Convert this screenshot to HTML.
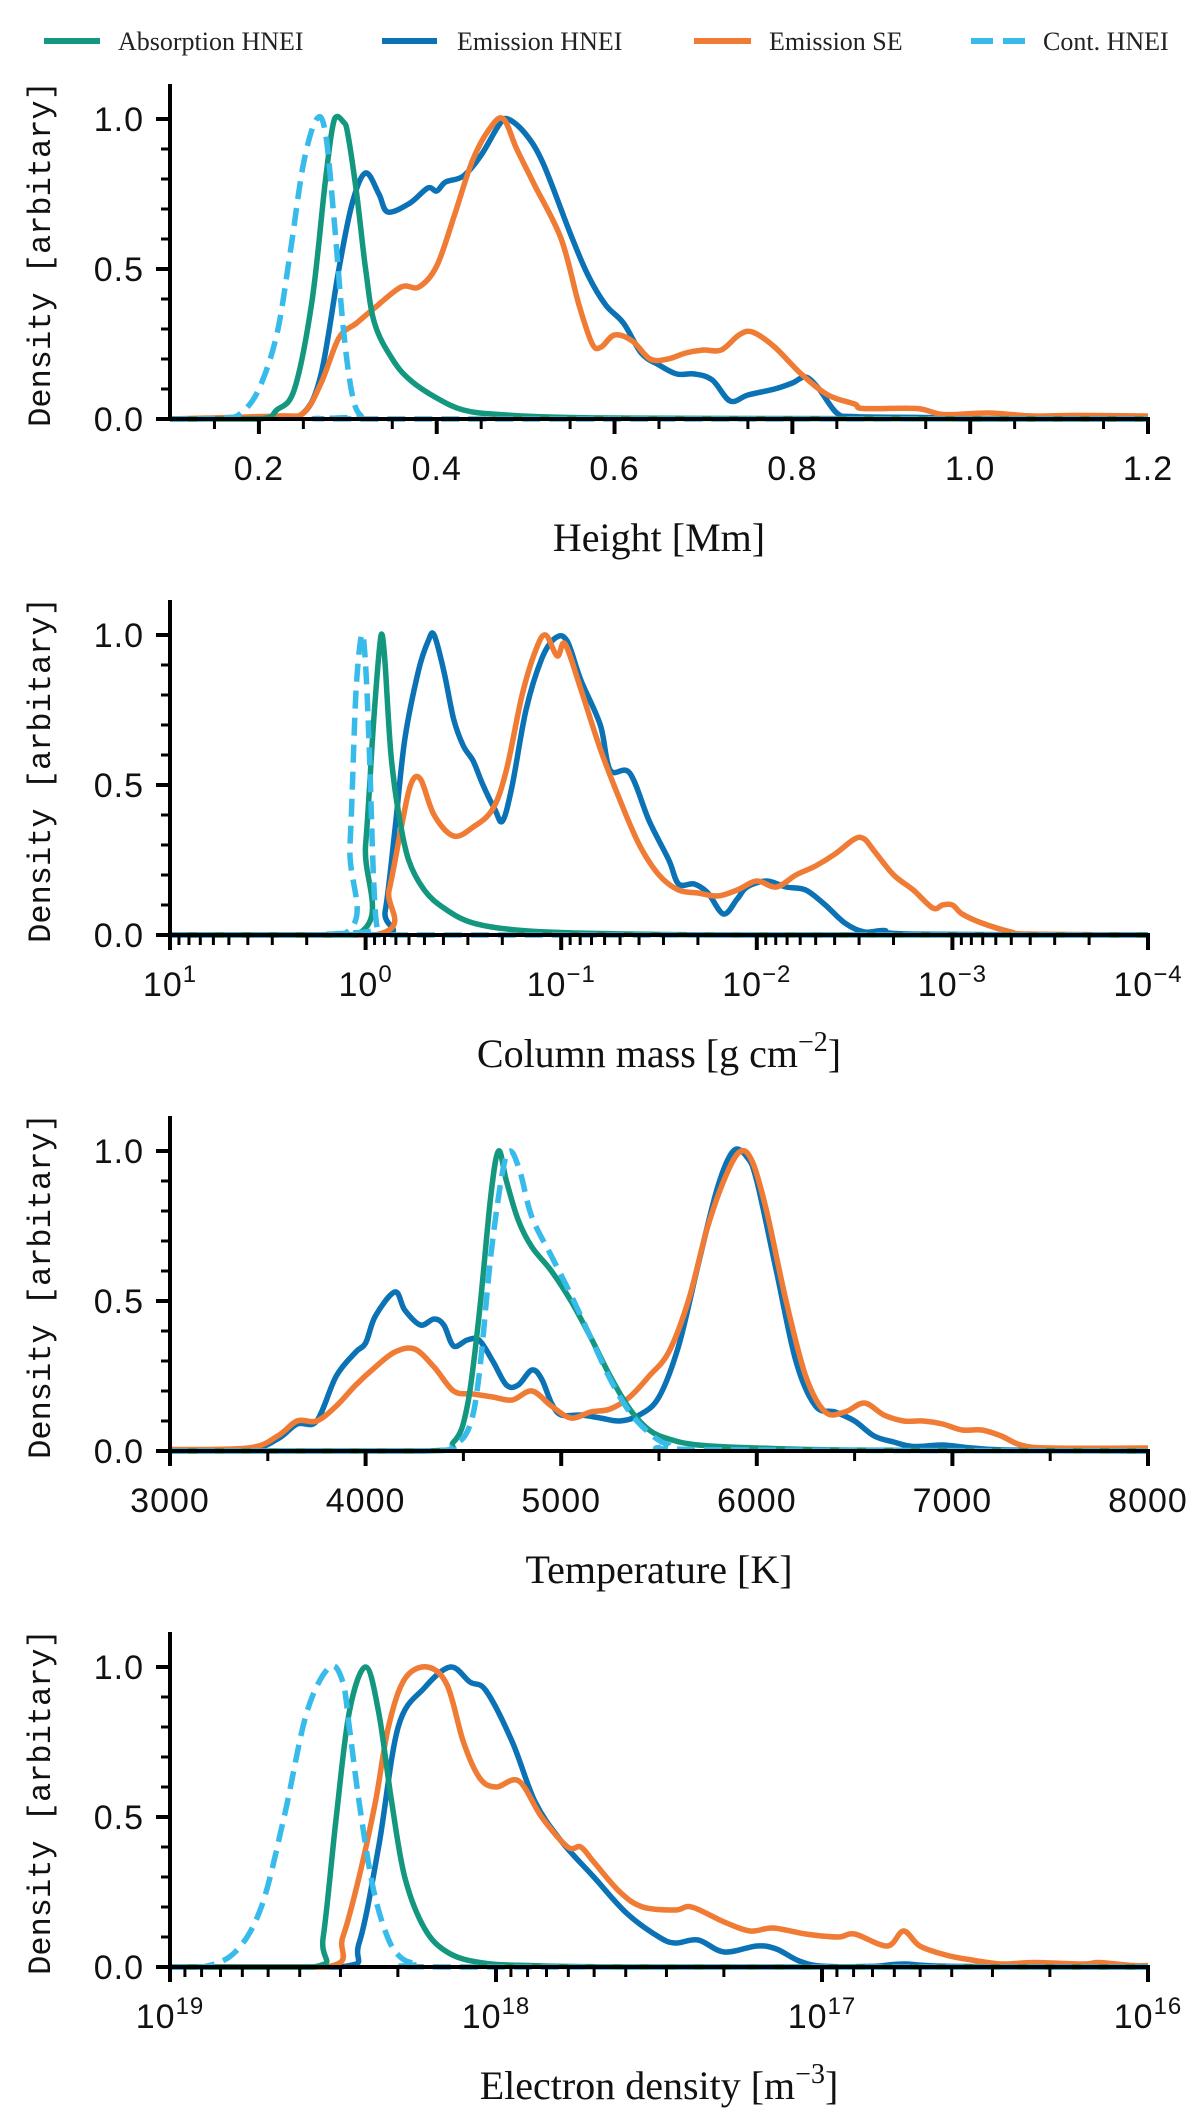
<!DOCTYPE html>
<html><head><meta charset="utf-8">
<style>
html,body{margin:0;padding:0;background:#fff;}
svg{display:block;}
.tick{font-family:"Liberation Sans",sans-serif;font-size:34px;letter-spacing:1px;fill:#111;}
.title{font-family:"Liberation Serif",serif;font-size:40px;fill:#111;}
.ylab{font-family:"Liberation Mono",monospace;font-size:32px;fill:#111;}
.leg{font-family:"Liberation Serif",serif;font-size:26px;fill:#222;}
</style></head>
<body>
<svg id="fig" width="1200" height="2126" viewBox="0 0 1200 2126" xmlns="http://www.w3.org/2000/svg">
<g>
 <g><line x1="44" y1="41" x2="100" y2="41" stroke="#14977f" stroke-width="6"/><text class="leg" x="118" y="50">Absorption HNEI</text></g>
 <g><line x1="382" y1="41" x2="437" y2="41" stroke="#0a72b5" stroke-width="6"/><text class="leg" x="457" y="50">Emission HNEI</text></g>
 <g><line x1="694" y1="41" x2="751" y2="41" stroke="#ef7b34" stroke-width="6"/><text class="leg" x="769" y="50">Emission SE</text></g>
 <g><line x1="971" y1="41" x2="1033" y2="41" stroke="#37bbeb" stroke-width="6" stroke-dasharray="22,10"/><text class="leg" x="1043" y="50">Cont. HNEI</text></g>
</g>
</svg>
<script>
// ---- Panel 1: Height [Mm]
const hAbsX=[0.1,0.2,0.22,0.24,0.26,0.275,0.285,0.295,0.30,0.31,0.32,0.33,0.35,0.37,0.40,0.43,0.47,0.55,0.7,1.2];
const hAbsY=[0,0,0.03,0.1,0.4,0.8,1.0,0.99,0.95,0.75,0.5,0.32,0.2,0.13,0.07,0.03,0.015,0.005,0.002,0];
const hEmX=[0.1,0.22,0.25,0.27,0.29,0.305,0.32,0.335,0.345,0.37,0.39,0.40,0.41,0.43,0.45,0.47,0.48,0.50,0.52,0.55,0.57,0.59,0.61,0.63,0.65,0.67,0.69,0.71,0.73,0.75,0.78,0.80,0.815,0.83,0.85,0.87,0.95,1.0,1.2];
const hEmY=[0,0.005,0.02,0.15,0.5,0.72,0.82,0.75,0.69,0.72,0.77,0.76,0.79,0.81,0.88,0.98,1.0,0.95,0.85,0.62,0.48,0.38,0.32,0.22,0.18,0.15,0.15,0.13,0.06,0.08,0.1,0.12,0.14,0.1,0.02,0.008,0.005,0,0];
const hSeX=[0.1,0.22,0.25,0.27,0.29,0.31,0.33,0.36,0.38,0.40,0.42,0.44,0.46,0.475,0.49,0.51,0.54,0.56,0.575,0.585,0.60,0.62,0.64,0.66,0.68,0.70,0.72,0.74,0.755,0.78,0.81,0.84,0.87,0.88,0.94,0.97,1.02,1.07,1.12,1.2];
const hSeY=[0,0.01,0.02,0.12,0.27,0.32,0.37,0.44,0.44,0.51,0.68,0.86,0.97,1.0,0.9,0.78,0.6,0.38,0.25,0.24,0.28,0.26,0.2,0.2,0.22,0.23,0.23,0.28,0.29,0.24,0.15,0.08,0.05,0.035,0.035,0.015,0.02,0.01,0.012,0.01];
const hCoX=[0.1,0.16,0.18,0.20,0.22,0.235,0.25,0.265,0.275,0.285,0.295,0.305,0.315,0.33,1.2];
const hCoY=[0,0.003,0.02,0.1,0.28,0.55,0.85,1.0,0.95,0.65,0.3,0.08,0.01,0,0];
const hTicks=[0.2,0.4,0.6,0.8,1.0,1.2];
const hTickLabels=["0.2","0.4","0.6","0.8","1.0","1.2"];
// ---- Panel 2: Column mass (log10)
const cAbsX=[1,0.05,0.0,-0.04,-0.07,-0.085,-0.1,-0.13,-0.17,-0.22,-0.3,-0.4,-0.55,-0.8,-1.2,-2,-4];
const cAbsY=[0,0,0.3,0.7,0.95,1.0,0.9,0.6,0.4,0.25,0.15,0.09,0.04,0.015,0.005,0,0];
const cEmX=[1,-0.05,-0.1,-0.15,-0.2,-0.27,-0.32,-0.35,-0.4,-0.45,-0.5,-0.55,-0.6,-0.66,-0.7,-0.75,-0.82,-0.9,-0.97,-1.03,-1.1,-1.2,-1.25,-1.35,-1.45,-1.55,-1.6,-1.68,-1.75,-1.83,-1.9,-1.95,-2.05,-2.15,-2.25,-2.35,-2.45,-2.55,-2.65,-2.8,-4];
const cEmY=[0,0,0.08,0.35,0.65,0.88,0.98,1.0,0.88,0.72,0.63,0.58,0.5,0.42,0.38,0.5,0.75,0.92,0.99,0.98,0.85,0.7,0.55,0.54,0.38,0.25,0.17,0.17,0.14,0.07,0.12,0.16,0.18,0.16,0.15,0.1,0.04,0.01,0.015,0.003,0];
const cSeX=[1,-0.05,-0.12,-0.18,-0.23,-0.28,-0.35,-0.45,-0.55,-0.65,-0.72,-0.8,-0.87,-0.92,-0.98,-1.02,-1.1,-1.2,-1.3,-1.4,-1.5,-1.6,-1.7,-1.8,-1.9,-2.0,-2.1,-2.2,-2.3,-2.4,-2.5,-2.55,-2.6,-2.7,-2.8,-2.9,-2.95,-3.0,-3.05,-3.15,-3.3,-3.4,-4];
const cSeY=[0,0,0.15,0.35,0.5,0.52,0.4,0.33,0.36,0.42,0.55,0.8,0.95,1.0,0.93,0.97,0.82,0.62,0.45,0.3,0.2,0.15,0.14,0.13,0.15,0.18,0.16,0.2,0.23,0.27,0.32,0.32,0.28,0.2,0.15,0.09,0.1,0.1,0.07,0.04,0.01,0.003,0];
const cCoX=[1,0.12,0.08,0.05,0.02,0.0,-0.02,-0.04,-0.06,-0.1,-4];
const cCoY=[0,0,0.3,0.8,1.0,0.9,0.6,0.2,0.02,0,0];
const cTicks=[1,0,-1,-2,-3,-4];
const cTickExp=["1","0","\u22121","\u22122","\u22123","\u22124"];
// ---- Panel 3: Temperature [K]
const tAbsX=[3000,4300,4450,4520,4580,4640,4680,4720,4780,4850,4950,5050,5150,5250,5350,5450,5550,5700,6000,6500,8000];
const tAbsY=[0,0,0.03,0.15,0.45,0.85,1.0,0.9,0.77,0.68,0.6,0.5,0.38,0.25,0.14,0.07,0.04,0.02,0.01,0.003,0];
const tEmX=[3000,3400,3550,3650,3750,3850,3950,4000,4050,4150,4200,4280,4350,4400,4450,4520,4580,4650,4720,4780,4850,4900,4950,5000,5100,5200,5300,5400,5500,5600,5700,5800,5880,5950,6000,6100,6200,6300,6400,6500,6600,6700,6800,6950,7100,7300,8000];
const tEmY=[0,0.005,0.04,0.09,0.1,0.25,0.33,0.36,0.45,0.53,0.47,0.42,0.44,0.42,0.35,0.37,0.37,0.3,0.22,0.22,0.27,0.24,0.16,0.12,0.12,0.11,0.1,0.12,0.18,0.35,0.62,0.88,1.0,0.98,0.9,0.6,0.3,0.15,0.13,0.1,0.05,0.03,0.015,0.02,0.01,0.003,0];
const tSeX=[3000,3400,3550,3650,3750,3850,3950,4050,4150,4250,4350,4450,4550,4650,4750,4850,4950,5050,5150,5250,5350,5450,5550,5650,5750,5850,5920,5980,6050,6150,6250,6350,6450,6550,6650,6750,6850,6950,7050,7150,7250,7350,7500,8000];
const tSeY=[0.005,0.01,0.05,0.1,0.1,0.15,0.22,0.28,0.33,0.34,0.28,0.2,0.19,0.18,0.17,0.2,0.15,0.11,0.13,0.14,0.18,0.25,0.33,0.5,0.75,0.93,1.0,0.96,0.8,0.5,0.25,0.13,0.13,0.16,0.12,0.1,0.1,0.09,0.07,0.07,0.05,0.02,0.01,0.01];
const tCoX=[3000,4300,4450,4530,4580,4640,4700,4740,4790,4850,4950,5050,5150,5250,5350,5450,5550,5700,8000];
const tCoY=[0,0,0.02,0.08,0.25,0.65,0.93,1.0,0.93,0.78,0.65,0.52,0.38,0.24,0.13,0.06,0.02,0.005,0];
const tTicks=[3000,4000,5000,6000,7000,8000];
const tTickLabels=["3000","4000","5000","6000","7000","8000"];
// ---- Panel 4: Electron density (log10)
const nAbsX=[19,18.56,18.53,18.49,18.45,18.40,18.36,18.32,18.28,18.22,18.15,18.05,17.9,17.5,16];
const nAbsY=[0,0,0.1,0.5,0.85,1.0,0.85,0.55,0.3,0.13,0.05,0.015,0.005,0,0];
const nEmX=[19,18.48,18.42,18.36,18.3,18.22,18.14,18.08,18.03,17.95,17.88,17.8,17.7,17.6,17.5,17.45,17.38,17.3,17.2,17.14,17.07,17.0,16.85,16.75,16.6,16];
const nEmY=[0,0,0.08,0.4,0.8,0.93,1.0,0.95,0.92,0.75,0.55,0.42,0.3,0.18,0.1,0.08,0.09,0.05,0.07,0.06,0.02,0.003,0.002,0.01,0.002,0];
const nSeX=[19,18.52,18.47,18.42,18.37,18.33,18.28,18.21,18.15,18.1,18.05,18.0,17.93,17.86,17.78,17.74,17.7,17.62,17.55,17.45,17.4,17.3,17.22,17.15,17.05,16.95,16.9,16.8,16.75,16.7,16.62,16.55,16.45,16.35,16.2,16.15,16.05,16];
const nSeY=[0,0,0.1,0.3,0.55,0.8,0.96,1.0,0.94,0.75,0.63,0.6,0.62,0.5,0.4,0.4,0.35,0.25,0.2,0.19,0.2,0.15,0.12,0.13,0.11,0.1,0.11,0.07,0.12,0.07,0.04,0.025,0.01,0.015,0.01,0.015,0.005,0.005];
const nCoX=[19,18.9,18.8,18.72,18.65,18.58,18.51,18.47,18.45,18.42,18.38,18.34,18.3,18.24,18.1,16];
const nCoY=[0,0,0.05,0.2,0.5,0.85,1.0,0.95,0.8,0.55,0.28,0.12,0.04,0.01,0,0];
const nTicks=[19,18,17,16];
const nTickExp=["19","18","17","16"];
const yTicks=[0,0.5,1.0];
const yTickLabels=["0.0","0.5","1.0"];

const NS="http://www.w3.org/2000/svg";
const svg=document.getElementById('fig');
const L=170,R=1148,UNIT=300;
const COLORS={abs:"#14977f",em:"#0a72b5",se:"#ef7b34",co:"#37bbeb"};
function el(tag,attrs,parent){const e=document.createElementNS(NS,tag);for(const k in attrs)e.setAttribute(k,attrs[k]);(parent||svg).appendChild(e);return e;}
function pathD(xs,ys,sx,sy){
  const p=xs.map((x,i)=>[sx(x),sy(ys[i])]);
  let d="M"+p[0][0].toFixed(1)+","+p[0][1].toFixed(1);
  for(let i=0;i<p.length-1;i++){
    const p0=p[Math.max(i-1,0)],p1=p[i],p2=p[i+1],p3=p[Math.min(i+2,p.length-1)];
    let c1x=p1[0]+(p2[0]-p0[0])/6,c1y=p1[1]+(p2[1]-p0[1])/6;
    let c2x=p2[0]-(p3[0]-p1[0])/6,c2y=p2[1]-(p3[1]-p1[1])/6;
    const lo=Math.min(p1[1],p2[1]),hi=Math.max(p1[1],p2[1]);
    c1y=Math.min(Math.max(c1y,lo-6),hi+6);c2y=Math.min(Math.max(c2y,lo-6),hi+6);
    const base=sy(0);c1y=Math.min(c1y,base);c2y=Math.min(c2y,base);
    d+=" C"+c1x.toFixed(1)+","+c1y.toFixed(1)+" "+c2x.toFixed(1)+","+c2y.toFixed(1)+" "+p2[0].toFixed(1)+","+p2[1].toFixed(1);
  }
  return d;
}
function panel(idx,y0,dom0,dom1,series,majors,labelFn,minors,title,name){
  const g=el('g',{});
  
  
  const sx=v=>L+(v-dom0)/(dom1-dom0)*(R-L);
  const sy=v=>y0-v*UNIT;
  const clip=el('clipPath',{id:'clip'+idx},g);
  el('rect',{x:L,y:y0-345,width:R-L+4,height:348},clip);
  const lg=el('g',{'clip-path':'url(#clip'+idx+')'},g);
  series.forEach(s=>{
    const p=el('path',{d:pathD(s.x,s.y,sx,sy),fill:'none',stroke:COLORS[s.k],'stroke-width':5.5,'stroke-linejoin':'round','stroke-linecap':'butt'},lg);
    if(s.k==='co')p.setAttribute('stroke-dasharray','18,9');
    
    
  });
  const ax=el('g',{stroke:'#000','stroke-width':4},g);
  
  
  el('line',{x1:L,y1:y0-335,x2:L,y2:y0+2},ax);
  el('line',{x1:L-2,y1:y0,x2:R+2,y2:y0},ax);
  for(let v=0;v<=1.0001;v+=0.1){const yy=sy(v);const major=Math.abs(v*2-Math.round(v*2))<1e-6;el('line',{x1:L-(major?14:9),y1:yy,x2:L,y2:yy,'stroke-width':major?4:3},ax);}
  yTicks.forEach((v,i)=>{const t=el('text',{class:'tick',x:L-26,y:sy(v)+12,'text-anchor':'end'},g);t.textContent=yTickLabels[i];
    });
  minors.forEach(v=>{const xx=sx(v);el('line',{x1:xx,y1:y0,x2:xx,y2:y0+10,'stroke-width':3},ax);});
  majors.forEach((v,i)=>{const xx=sx(v);el('line',{x1:xx,y1:y0,x2:xx,y2:y0+15,'stroke-width':4},ax);labelFn(g,xx,y0+61,i);});
  const yl=el('text',{class:'ylab',x:0,y:0,'text-anchor':'middle',transform:'translate(50,'+(y0-165)+') rotate(-90)'},g);
  yl.textContent='Density [arbitary]';
  
  const tt=el('text',{class:'title',x:(L+R)/2,y:y0+132,'text-anchor':'middle'},g);
  tt.innerHTML=title;
  
}
function plainLabels(arr,name){return (g,x,y,i)=>{const t=el('text',{class:'tick',x:x,y:y,'text-anchor':'middle'},g);t.textContent=arr[i];
  };}
function powLabels(arr,name){return (g,x,y,i)=>{const t=el('text',{class:'tick',x:x,y:y,'text-anchor':'middle'},g);
  t.innerHTML='10<tspan dy="-14" font-size="24">'+arr[i]+'</tspan>';
  };}
function range(a,b,s){const r=[];for(let v=a;v<=b+1e-9;v+=s)r.push(Math.round(v*1e6)/1e6);return r;}
function logMinors(hi,lo){const r=[];for(let d=lo;d<hi;d++)for(let m=2;m<=9;m++)r.push(d+Math.log10(m));return r;}

const Y0=[419,935,1451,1967];
panel(1,Y0[0],0.1,1.2,[{x:hEmX,y:hEmY,k:'em',n:'emission-hnei'},{x:hSeX,y:hSeY,k:'se',n:'emission-se'},{x:hAbsX,y:hAbsY,k:'abs',n:'absorption-hnei'},{x:hCoX,y:hCoY,k:'co',n:'cont-hnei'}],
  hTicks,plainLabels(hTickLabels,'height'),range(0.15,1.15,0.1),'Height [Mm]','height');
panel(2,Y0[1],1,-4,[{x:cEmX,y:cEmY,k:'em',n:'emission-hnei'},{x:cSeX,y:cSeY,k:'se',n:'emission-se'},{x:cAbsX,y:cAbsY,k:'abs',n:'absorption-hnei'},{x:cCoX,y:cCoY,k:'co',n:'cont-hnei'}],
  cTicks,powLabels(cTickExp,'column-mass'),logMinors(1,-4),'Column mass [g cm<tspan dy="-16" font-size="28">\u22122</tspan><tspan dy="16">]</tspan>','column-mass');
panel(3,Y0[2],3000,8000,[{x:tEmX,y:tEmY,k:'em',n:'emission-hnei'},{x:tSeX,y:tSeY,k:'se',n:'emission-se'},{x:tAbsX,y:tAbsY,k:'abs',n:'absorption-hnei'},{x:tCoX,y:tCoY,k:'co',n:'cont-hnei'}],
  tTicks,plainLabels(tTickLabels,'temperature'),range(3500,7500,1000),'Temperature [K]','temperature');
panel(4,Y0[3],19,16,[{x:nEmX,y:nEmY,k:'em',n:'emission-hnei'},{x:nSeX,y:nSeY,k:'se',n:'emission-se'},{x:nAbsX,y:nAbsY,k:'abs',n:'absorption-hnei'},{x:nCoX,y:nCoY,k:'co',n:'cont-hnei'}],
  nTicks,powLabels(nTickExp,'electron-density'),logMinors(19,16),'Electron density [m<tspan dy="-16" font-size="28">\u22123</tspan><tspan dy="16">]</tspan>','electron-density');
</script>
</body></html>
